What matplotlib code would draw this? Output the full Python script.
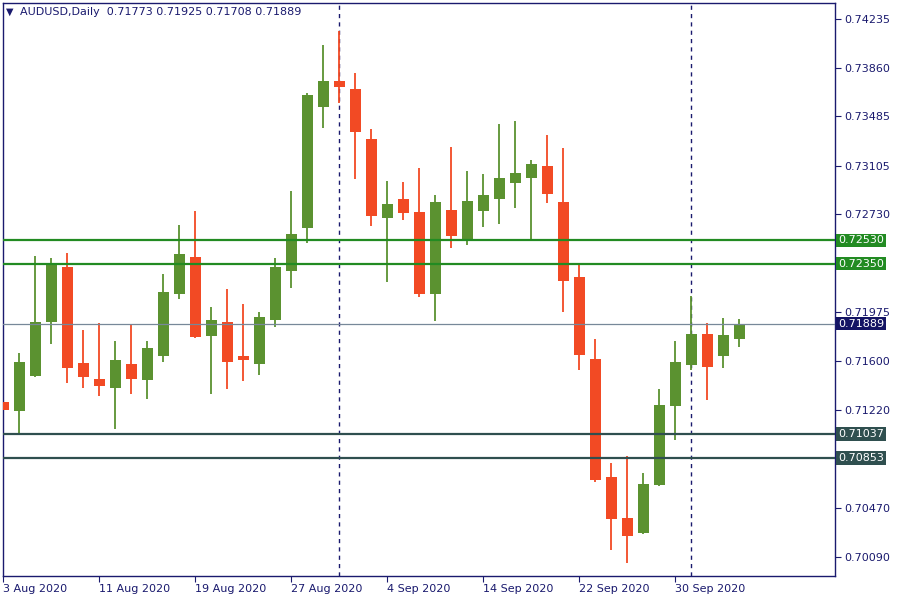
import matplotlib
matplotlib.use("Agg")
import matplotlib.pyplot as plt
import matplotlib.transforms as mtransforms
import pandas as pd

# daily AUDUSD bars, 3 Aug 2020 .. 6 Oct 2020
dates = pd.bdate_range("2020-08-03", periods=47)

opens = [0.71284, 0.71215, 0.71485, 0.71901, 0.72324, 0.71585, 0.71462, 0.71392,
         0.71577, 0.71454, 0.71639, 0.72116, 0.72402, 0.71793, 0.71901, 0.71639,
         0.71577, 0.71916, 0.72294, 0.72625, 0.73557, 0.73757, 0.73696, 0.73311,
         0.72702, 0.72848, 0.72748, 0.72116, 0.72764, 0.72540, 0.72756, 0.72848,
         0.72972, 0.73010, 0.73103, 0.72825, 0.72247, 0.71616, 0.70707, 0.70391,
         0.70275, 0.70645, 0.71254, 0.71569, 0.71808, 0.71639, 0.71773]
highs = [0.71492, 0.71662, 0.72409, 0.72394, 0.72432, 0.71839, 0.71893, 0.71754,
         0.71878, 0.71754, 0.72271, 0.72648, 0.72756, 0.72016, 0.72155, 0.72039,
         0.71978, 0.72394, 0.72910, 0.73665, 0.74035, 0.74143, 0.73819, 0.73388,
         0.72987, 0.72979, 0.73087, 0.72879, 0.73249, 0.73064, 0.73041, 0.73426,
         0.73449, 0.73149, 0.73341, 0.73241, 0.72348, 0.71770, 0.70814, 0.70868,
         0.70737, 0.71385, 0.71754, 0.72101, 0.71893, 0.71932, 0.71925]
lows = [0.70761, 0.71046, 0.71477, 0.71731, 0.71431, 0.71392, 0.71331, 0.71076,
        0.71346, 0.71308, 0.71593, 0.72078, 0.71777, 0.71346, 0.71385, 0.71446,
        0.71492, 0.71862, 0.72163, 0.72509, 0.73395, 0.73588, 0.73002, 0.72640,
        0.72209, 0.72687, 0.72093, 0.71908, 0.72471, 0.72494, 0.72633, 0.72656,
        0.72779, 0.72532, 0.72818, 0.71978, 0.71531, 0.70668, 0.70144, 0.70044,
        0.70268, 0.70637, 0.70992, 0.71531, 0.71300, 0.71546, 0.71708]
closes = [0.71223, 0.71593, 0.71901, 0.72355, 0.71546, 0.71477, 0.71408, 0.71608,
          0.71462, 0.71700, 0.72132, 0.72425, 0.71785, 0.71916, 0.71593, 0.71608,
          0.71939, 0.72324, 0.72579, 0.73650, 0.73757, 0.73711, 0.73365, 0.72717,
          0.72810, 0.72740, 0.72116, 0.72825, 0.72563, 0.72833, 0.72879, 0.73010,
          0.73049, 0.73118, 0.72887, 0.72217, 0.71647, 0.70684, 0.70383, 0.70252,
          0.70653, 0.71261, 0.71593, 0.71808, 0.71554, 0.71801, 0.71889]

# price axis ticks and horizontal levels
price_ticks = [0.74235, 0.73860, 0.73485, 0.73105, 0.72730,
               0.71975, 0.71600, 0.71220, 0.70470, 0.70090]
resistance = [0.72530, 0.72350]
support = [0.71037, 0.70853]
bid = 0.71889

date_labels = ["3 Aug 2020", "11 Aug 2020", "19 Aug 2020", "27 Aug 2020",
               "4 Sep 2020", "14 Sep 2020", "22 Sep 2020", "30 Sep 2020"]
label_step = 6

UP = "#5b9230"
DOWN = "#f24a24"
NAVY = "#1a1a6e"

fig = plt.figure(figsize=(9, 6), dpi=100)
ax = fig.add_axes([3 / 900, 24 / 600, 832 / 900, 573 / 600])

x = range(len(dates))
for i, o, h, l, c in zip(x, opens, highs, lows, closes):
    col = UP if c >= o else DOWN
    ax.vlines(i, l, h, color=col, linewidth=1.3, zorder=2)
    ax.bar(i, abs(c - o), bottom=min(o, c), width=0.69, color=col,
           linewidth=0, zorder=3)

# month separators
for i in range(1, len(dates)):
    if dates[i].month != dates[i - 1].month:
        ax.axvline(i, color=NAVY, linewidth=1.0, linestyle=(0, (3, 3)), zorder=1)

trans = mtransforms.blended_transform_factory(ax.transAxes, ax.transData)

def price_box(y, face):
    ax.text(1.0036, y, f"{y:.5f}", transform=trans, ha="left", va="center",
            fontsize=8, color="white", clip_on=False, zorder=10,
            bbox=dict(boxstyle="square,pad=0.15", fc=face, ec="none"))

for lvl in resistance:
    ax.axhline(lvl, color="#228b22", linewidth=1.6, zorder=4)
    price_box(lvl, "#228b22")
for lvl in support:
    ax.axhline(lvl, color="#2f4f4f", linewidth=1.6, zorder=4)
    price_box(lvl, "#2f4f4f")
ax.axhline(bid, color="#778899", linewidth=0.9, zorder=4)
price_box(bid, "#141464")

ax.set_xlim(-0.03, 51.97)
ax.set_ylim(0.699439, 0.743583)

ax.yaxis.tick_right()
ax.set_yticks(price_ticks)
ax.set_yticklabels([f"{t:.5f}" for t in price_ticks])
ax.set_xticks(list(range(0, label_step * len(date_labels), label_step)))
ax.set_xticklabels(date_labels, ha="left")
ax.tick_params(axis="both", colors=NAVY, labelsize=8, length=4, width=0.8,
               direction="out")
ax.tick_params(axis="y", pad=3)
ax.tick_params(axis="x", pad=2)

for sp in ax.spines.values():
    sp.set_color(NAVY)
    sp.set_linewidth(1.0)

fig.text(6 / 900, 1 - 12 / 600, "\u25bc", fontsize=7, color=NAVY, va="center")
fig.text(20 / 900, 1 - 12 / 600,
         "AUDUSD,Daily  %.5f %.5f %.5f %.5f" % (opens[-1], highs[-1], lows[-1], closes[-1]),
         fontsize=8, color=NAVY, va="center")

fig.savefig("out.png", dpi=100)
